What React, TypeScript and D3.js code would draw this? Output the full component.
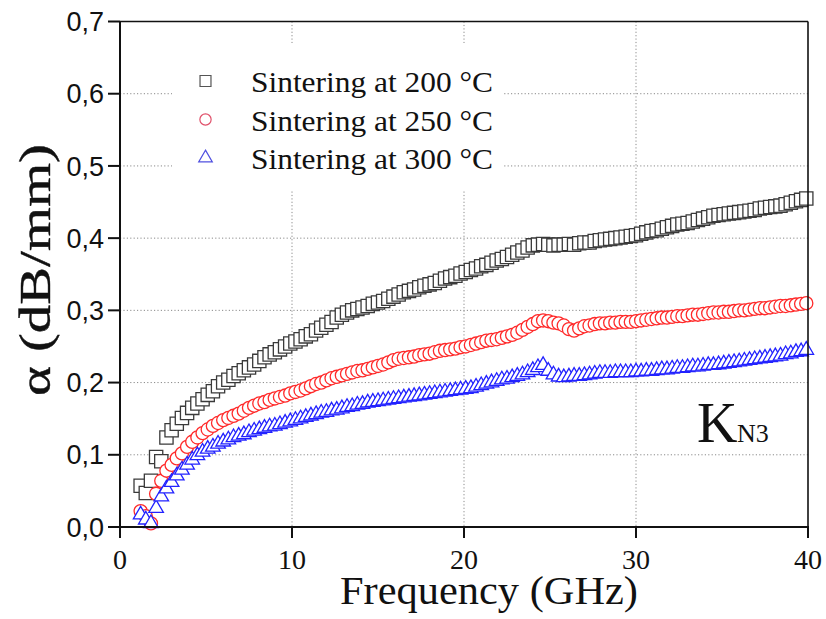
import React from "react";
import * as d3 from "d3";

const FREQ = [
  1.2, 1.5, 1.8, 2.1, 2.4, 2.7, 3.0, 3.3, 3.6, 3.9, 4.2, 4.5, 4.8, 5.1, 5.4, 5.7, 6.0, 6.3, 6.6, 6.9, 7.2, 7.5, 7.8, 8.1, 8.4, 8.7, 9.0, 9.3, 9.6, 9.9,
  10.2, 10.5, 10.8, 11.1, 11.4, 11.7, 12.0, 12.3, 12.6, 12.9, 13.2, 13.5, 13.8, 14.1, 14.4, 14.7, 15.0, 15.3, 15.6, 15.9, 16.2, 16.5, 16.8, 17.1, 17.4, 17.7, 18.0, 18.3, 18.6, 18.9,
  19.2, 19.5, 19.8, 20.1, 20.4, 20.7, 21.0, 21.3, 21.6, 21.9, 22.2, 22.5, 22.8, 23.1, 23.4, 23.7, 24.0, 24.3, 24.6, 24.9, 25.2, 25.5, 25.8, 26.1, 26.4, 26.7, 27.0, 27.3, 27.6, 27.9,
  28.2, 28.5, 28.8, 29.1, 29.4, 29.7, 30.0, 30.3, 30.6, 30.9, 31.2, 31.5, 31.8, 32.1, 32.4, 32.7, 33.0, 33.3, 33.6, 33.9, 34.2, 34.5, 34.8, 35.1, 35.4, 35.7, 36.0, 36.3, 36.6, 36.9, 37.2, 37.5, 37.8, 38.1, 38.4, 38.7, 39.0, 39.3, 39.6, 39.9,
];

const ALPHA_200 = [
  0.057, 0.047, 0.064, 0.097, 0.091, 0.124, 0.134, 0.143, 0.151, 0.158, 0.165, 0.171, 0.177, 0.183, 0.188, 0.195, 0.2, 0.204, 0.209, 0.213, 0.217, 0.221, 0.225, 0.23, 0.235, 0.239, 0.242, 0.246, 0.25, 0.254,
  0.257, 0.26, 0.264, 0.267, 0.272, 0.276, 0.28, 0.284, 0.29, 0.294, 0.297, 0.3, 0.302, 0.304, 0.306, 0.309, 0.311, 0.313, 0.316, 0.319, 0.322, 0.325, 0.327, 0.329, 0.332, 0.334, 0.336, 0.338, 0.341, 0.344,
  0.346, 0.348, 0.351, 0.353, 0.356, 0.358, 0.361, 0.363, 0.366, 0.369, 0.371, 0.374, 0.377, 0.38, 0.383, 0.387, 0.39, 0.391, 0.392, 0.391, 0.39, 0.391, 0.391, 0.392, 0.391, 0.393, 0.394, 0.394, 0.396, 0.397,
  0.398, 0.399, 0.4, 0.401, 0.402, 0.403, 0.404, 0.406, 0.408, 0.41, 0.411, 0.413, 0.415, 0.417, 0.419, 0.42, 0.421, 0.423, 0.425, 0.427, 0.429, 0.431, 0.432, 0.433, 0.434, 0.435, 0.436, 0.437, 0.438, 0.439, 0.441, 0.442, 0.443, 0.444, 0.445, 0.447, 0.449, 0.451, 0.453, 0.455,
];

const ALPHA_250 = [
  0.022, 0.015, 0.005, 0.046, 0.064, 0.078, 0.086, 0.095, 0.102, 0.111, 0.118, 0.124, 0.13, 0.135, 0.14, 0.144, 0.148, 0.151, 0.154, 0.157, 0.161, 0.165, 0.168, 0.171, 0.173, 0.176, 0.178, 0.18, 0.182, 0.185,
  0.187, 0.189, 0.192, 0.195, 0.198, 0.2, 0.203, 0.206, 0.208, 0.21, 0.212, 0.214, 0.216, 0.217, 0.219, 0.221, 0.223, 0.225, 0.228, 0.231, 0.233, 0.234, 0.235, 0.236, 0.238, 0.239, 0.24, 0.242, 0.244, 0.245,
  0.246, 0.247, 0.249, 0.25, 0.252, 0.254, 0.256, 0.258, 0.259, 0.26, 0.262, 0.264, 0.266, 0.269, 0.273, 0.277, 0.281, 0.285, 0.286, 0.285, 0.283, 0.282, 0.279, 0.274, 0.272, 0.275, 0.278, 0.279, 0.281, 0.282,
  0.282, 0.283, 0.283, 0.284, 0.284, 0.284, 0.285, 0.286, 0.287, 0.288, 0.289, 0.29, 0.29, 0.291, 0.292, 0.292, 0.293, 0.294, 0.294, 0.295, 0.296, 0.297, 0.297, 0.298, 0.298, 0.299, 0.3, 0.3, 0.301, 0.302, 0.303, 0.303, 0.304, 0.305, 0.306, 0.306, 0.307, 0.308, 0.309, 0.31,
];

const ALPHA_300 = [
  0.017, 0.01, 0.005, 0.026, 0.042, 0.053, 0.062, 0.071, 0.079, 0.086, 0.093, 0.099, 0.104, 0.108, 0.111, 0.115, 0.118, 0.121, 0.124, 0.126, 0.128, 0.131, 0.133, 0.135, 0.137, 0.139, 0.14, 0.142, 0.144, 0.146,
  0.148, 0.15, 0.152, 0.154, 0.156, 0.158, 0.159, 0.161, 0.162, 0.164, 0.166, 0.167, 0.169, 0.17, 0.172, 0.173, 0.174, 0.175, 0.176, 0.177, 0.178, 0.179, 0.18, 0.181, 0.182, 0.183, 0.184, 0.185, 0.186, 0.187,
  0.188, 0.189, 0.19, 0.191, 0.192, 0.194, 0.196, 0.198, 0.2, 0.202, 0.204, 0.205, 0.207, 0.209, 0.211, 0.214, 0.217, 0.221, 0.224, 0.216, 0.211, 0.208, 0.207, 0.208, 0.209, 0.209, 0.21, 0.211, 0.212, 0.213,
  0.213, 0.213, 0.214, 0.214, 0.214, 0.214, 0.215, 0.215, 0.216, 0.216, 0.217, 0.218, 0.218, 0.219, 0.22, 0.22, 0.221, 0.222, 0.222, 0.223, 0.224, 0.224, 0.225, 0.226, 0.227, 0.228, 0.229, 0.23, 0.231, 0.232, 0.233, 0.234, 0.235, 0.236, 0.237, 0.239, 0.24, 0.242, 0.243, 0.245,
];

const X_TICKS = [0, 10, 20, 30, 40];
const Y_TICKS = [0, 0.1, 0.2, 0.3, 0.4, 0.5, 0.6, 0.7];
const X_GRID = [10, 20, 30];
const Y_GRID = [0.1, 0.2, 0.3, 0.4, 0.5, 0.6];
const LEGEND_LABELS = ["Sintering at 200 °C", "Sintering at 250 °C", "Sintering at 300 °C"];

const W = 826;
const H = 619;
const L = 120, R = 808, T = 21.5, B = 527;

const SERIES = [
  { values: ALPHA_200, symbol: d3.symbolSquare, size: 176, legendSize: 120, color: "#3a3a3a", legendColor: "#555" },
  { values: ALPHA_250, symbol: d3.symbolCircle, size: 135, legendSize: 100, color: "#ff2a2a", legendColor: "#e0506a" },
  { values: ALPHA_300, symbol: d3.symbolTriangle, size: 92, legendSize: 80, color: "#2222ff", legendColor: "#5050e0" },
];

export default function App() {
  const x = d3.scaleLinear().domain([0, 40]).range([L, R]);
  const y = d3.scaleLinear().domain([0, 0.7]).range([B, T]);
  const serif = "'Liberation Serif', 'Times New Roman', serif";
  const sans = "'Liberation Sans', Arial, sans-serif";
  const fmt = (v: number) => v.toFixed(1).replace(".", ",");

  return (
    <svg width={W} height={H} style={{ position: "absolute", left: 0, top: 0, background: "#fff" }}>
      <rect x={0} y={0} width={W} height={H} fill="#fff" />
      {X_GRID.map((v) => (
        <line key={"gx" + v} x1={x(v)} x2={x(v)} y1={T} y2={B} stroke="#8a8a8a" strokeWidth={1} strokeDasharray="1.2,2.2" />
      ))}
      {Y_GRID.map((v) => (
        <line key={"gy" + v} x1={L} x2={R} y1={y(v)} y2={y(v)} stroke="#8a8a8a" strokeWidth={1} strokeDasharray="1.2,2.2" />
      ))}
      <rect x={172} y={43} width={330} height={147} fill="#fff" />
      {SERIES.map((s, si) => {
        const gen = d3.symbol().type(s.symbol).size(s.size);
        const p = gen() as string;
        return (
          <g key={"s" + si}>
            {s.values.map((v, i) => (
              <path key={i} d={p} transform={`translate(${x(FREQ[i])},${y(v)})`} fill="#fff" stroke={s.color} strokeWidth={1.3} />
            ))}
          </g>
        );
      })}
      {SERIES.map((s, si) => {
        const gen = d3.symbol().type(s.symbol).size(s.legendSize);
        const cy = 81 + si * 38.5;
        return (
          <g key={"lg" + si}>
            <path d={gen() as string} transform={`translate(205.5,${cy})`} fill="#fff" stroke={s.legendColor} strokeWidth={1.2} />
            <text x={251} y={cy + 11} fontFamily={serif} fontSize={30} textLength={242} lengthAdjust="spacingAndGlyphs" fill="#111">
              {LEGEND_LABELS[si]}
            </text>
          </g>
        );
      })}
      <line x1={L} x2={R} y1={T} y2={T} stroke="#111" strokeWidth={1.6} />
      <line x1={R} x2={R} y1={T} y2={B} stroke="#111" strokeWidth={1.6} />
      <line x1={L} x2={L} y1={T} y2={B + 1} stroke="#111" strokeWidth={2} />
      <line x1={L - 1} x2={R + 1} y1={B} y2={B} stroke="#111" strokeWidth={2} />
      {Y_TICKS.map((v) => (
        <g key={"yt" + v}>
          <line x1={L - 12} x2={L} y1={y(v)} y2={y(v)} stroke="#111" strokeWidth={2} />
          <text x={104} y={y(v) + 9.6} textAnchor="end" fontFamily={sans} fontSize={27} fill="#111">
            {fmt(v)}
          </text>
        </g>
      ))}
      {X_TICKS.map((v) => (
        <g key={"xt" + v}>
          <line x1={x(v)} x2={x(v)} y1={B} y2={B + 11} stroke="#111" strokeWidth={2} />
          <text x={x(v)} y={569} textAnchor="middle" fontFamily={serif} fontSize={28} fill="#111">
            {v}
          </text>
        </g>
      ))}
      <text x={340} y={604} fontFamily={serif} fontSize={41} textLength={298} lengthAdjust="spacingAndGlyphs" fill="#111">
        Frequency (GHz)
      </text>
      <text transform="translate(50,270) rotate(-90)" textAnchor="middle" fontFamily={serif} fontSize={44} textLength={252} lengthAdjust="spacingAndGlyphs" fill="#111" stroke="#111" strokeWidth={0.4}>
        α (dB/mm)
      </text>
      <text x={697} y={442} fontFamily={serif} fontSize={56} fill="#111">
        K
      </text>
      <text x={737} y={442} fontFamily={serif} fontSize={26} fill="#111">
        N3
      </text>
    </svg>
  );
}
